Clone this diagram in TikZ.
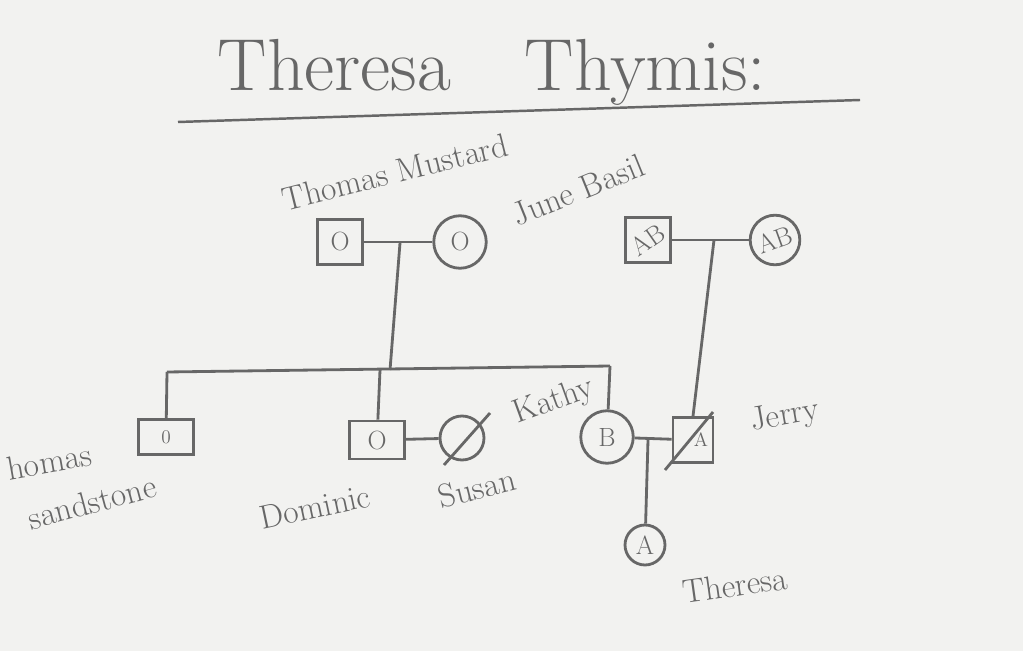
\documentclass[tikz,border=0pt]{standalone}
\usetikzlibrary{positioning}
\definecolor{pencil}{HTML}{676767}
\definecolor{paper}{HTML}{F2F2F0}

\begin{document}
\begin{tikzpicture}[x=0.02cm, y=-0.02cm, line width=1.6pt, color=pencil]
    \tikzstyle{male}=[draw, line width=1.6pt, minimum width=0.9cm, minimum height=0.9cm, inner sep=0pt, font=\fontsize{15}{17}\selectfont]
    \tikzstyle{female}=[draw, circle, line width=1.6pt, minimum size=1.05cm, inner sep=0pt, font=\fontsize{15}{17}\selectfont]
    \tikzstyle{pname}=[font=\fontsize{19}{22}\selectfont]
    \fill[paper] (0,0) rectangle (1023,651);
    \useasboundingbox (0,0) rectangle (1023,651);
    % title
    \node[font=\fontsize{42}{48}\selectfont] (title) at (492,72) {Theresa\quad Thymis:};
    \coordinate (ulL) at (178,122);
    \coordinate (ulR) at (860,100);
    \draw[line width=1.4pt] (ulL) -- (ulR);
    % grandparents
    \node[male]   (tm)    at (340,242) {O};
    \node[female] (jb)    at (460,242) {O};
    \node[male]   (abm)   at (648,240) {\rotatebox{35}{AB}};
    \node[female, minimum size=0.95cm] (abf) at (775,240) {\rotatebox{20}{AB}};
    \coordinate (tmjb) at (400,243);
    \coordinate (abmf) at (714,240);
    % children
    \coordinate (sibL)  at (167,372);
    \coordinate (sibM)  at (390,370);
    \coordinate (sibD)  at (380,370);
    \coordinate (sibR)  at (610,366);
    \node[male, minimum width=1.1cm, minimum height=0.7cm] (ts)  at (166,437) {\fontsize{11}{12}\selectfont 0};
    \node[male, minimum width=1.1cm, minimum height=0.76cm] (dom) at (377,440) {O};
    \node[female, minimum size=0.88cm] (sus)   at (462,438) {};
    \node[female] (kat)   at (607,437) {B};
    \node[male, minimum width=0.8cm] (jer) at (693,440) {\hspace{9pt}\raisebox{-7pt}{\fontsize{11}{12}\selectfont A}};
    \coordinate (katjer) at (648,440);
    \node[female, minimum size=0.8cm] (the) at (645,545) {A};
    % lines
    \path (tm)   edge (jb)
          (abm)  edge (abf)
          (tmjb) edge (sibM)
          (abmf) edge (jer.north)
          (sibL) edge (sibR)
          (sibL) edge (ts)
          (sibD) edge (dom)
          (sibR) edge (kat)
          (dom)  edge (sus)
          (kat)  edge (jer)
          (katjer) edge (the);
    \draw ([shift={(-18,27)}]sus.center) -- ([shift={(28,-25)}]sus.center);
    \draw ([shift={(-28,30)}]jer.center) -- ([shift={(20,-28)}]jer.center);
    % names
    \node[pname, rotate=14] (ntm)  at (395,172) {Thomas Mustard};
    \node[pname, rotate=22] (njb)  at (578,190) {June Basil};
    \node[pname, rotate=10, anchor=west] (nts1) at (0,470) {homas};
    \node[pname, rotate=15] (nts2) at (92,502)  {sandstone};
    \node[pname, rotate=12] (ndom) at (315,507) {Dominic};
    \node[pname, rotate=14] (nsus) at (477,488) {Susan};
    \node[pname, rotate=20] (nkat) at (554,402) {Kathy};
    \node[pname, rotate=10] (njer) at (785,417) {Jerry};
    \node[pname, rotate=8]  (nthe) at (735,585) {Theresa};
\end{tikzpicture}
\end{document}
